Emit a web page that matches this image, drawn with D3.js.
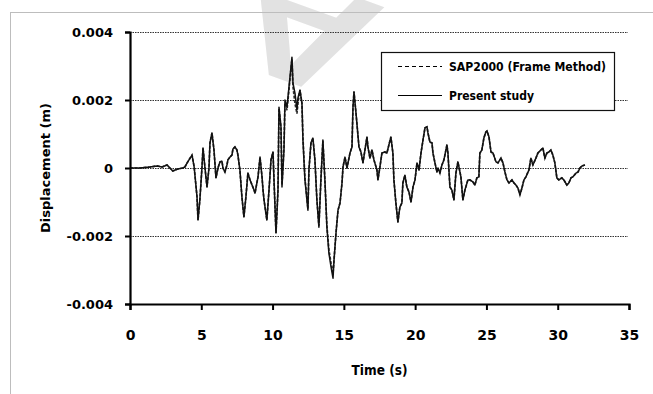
<!DOCTYPE html>
<html>
<head>
<meta charset="utf-8">
<script src="https://cdn.jsdelivr.net/npm/d3@7"></script>
<style>
  html, body { margin: 0; padding: 0; background: #fff; }
  svg { display: block; }
  text { font-family: "DejaVu Sans", sans-serif; font-weight: bold; fill: #000; }
</style>
</head>
<body>
<div id="chart"></div>
<script>
// time axis (s)
const timeS = [
  0, 0.7, 1.4, 1.9, 2.25, 2.6, 2.8, 3.0, 3.35, 3.7,
  3.85, 4.05, 4.35, 4.5, 4.7, 4.77, 4.9, 5.05, 5.12, 5.26,
  5.4, 5.54, 5.61, 5.75, 5.89, 6.03, 6.17, 6.31, 6.45, 6.52,
  6.66, 6.8, 6.87, 7.01, 7.15, 7.22, 7.36, 7.5, 7.57, 7.71,
  7.85, 7.99, 8.13, 8.27, 8.42, 8.56, 8.7, 8.77, 8.9, 8.98,
  9.12, 9.26, 9.33, 9.4, 9.6, 9.75, 9.89, 10.03, 10.1, 10.24,
  10.38, 10.45, 10.59, 10.66, 10.8, 10.87, 11.01, 11.15, 11.36, 11.43,
  11.57, 11.71, 11.78, 11.92, 12.06, 12.13, 12.27, 12.48, 12.55, 12.69,
  12.83, 12.97, 13.11, 13.25, 13.39, 13.53, 13.67, 13.81, 13.95, 14.1,
  14.24, 14.31, 14.45, 14.59, 14.73, 14.87, 14.94, 15.08, 15.22, 15.43,
  15.57, 15.64, 15.71, 15.85, 16.06, 16.2, 16.34, 16.48, 16.62, 16.69,
  16.83, 16.97, 17.11, 17.32, 17.39, 17.53, 17.67, 17.88, 18.02, 18.16,
  18.3, 18.44, 18.51, 18.65, 18.79, 18.93, 19.07, 19.14, 19.28, 19.42,
  19.57, 19.71, 19.85, 19.99, 20.13, 20.27, 20.41, 20.55, 20.69, 20.83,
  20.9, 21.04, 21.18, 21.25, 21.39, 21.53, 21.6, 21.74, 21.88, 22.02,
  22.23, 22.3, 22.44, 22.58, 22.72, 22.86, 23.0, 23.21, 23.35, 23.49,
  23.7, 23.84, 24.05, 24.19, 24.33, 24.47, 24.54, 24.68, 24.82, 24.96,
  25.04, 25.18, 25.32, 25.46, 25.67, 25.81, 26.02, 26.16, 26.3, 26.44,
  26.58, 26.79, 26.93, 27.07, 27.21, 27.35, 27.49, 27.63, 27.77, 27.98,
  28.12, 28.26, 28.47, 28.61, 28.82, 28.96, 29.1, 29.24, 29.38, 29.52,
  29.66, 29.8, 29.94, 30.08, 30.29, 30.43, 30.64, 30.78, 30.93, 31.07,
  31.28, 31.42, 31.56, 31.7, 31.91
];

// displacement (m), present study (solid)
const presentStudy = [
  0, 0, 0.00003, 0.00006, 0.00003, 0.00009, 0, -0.00009, -0.00003, 0,
  0.00003, 0.00018, 0.00038, 0.00003, -0.00085, -0.00153, -0.00094, 0.00003, 0.00059, 0,
  -0.00056, 0, 0.00074, 0.00103, 0.00053, -0.00029, 0, 0.00018, 0.0002, 0,
  -0.00012, 0.00009, 0.00024, 0.00032, 0.00038, 0.00056, 0.00062, 0.00053, 0.00038, -0.00006,
  -0.00085, -0.00144, -0.00085, -0.00015, -0.00035, -0.0005, -0.00065, -0.00074, -0.00044, -0.00026,
  0.00032, -0.00026, -0.00065, -0.00094, -0.00153, -0.00065, 0.00024, 0.00047, -0.00035, -0.00191,
  -0.00065, 0.00179, 0.00121, -0.00056, 0.00053, 0.002, 0.00179, 0.00238, 0.00326, 0.0025,
  0.0022, 0.00171, 0.00206, 0.00229, 0.00191, 0.00082, -0.00035, -0.00124, -0.00006, 0.00074,
  0.00088, 0.00024, -0.00094, -0.00174, -0.00035, 0.00082, -0.00035, -0.00174, -0.0025, -0.00291,
  -0.00324, -0.00271, -0.00191, -0.00124, -0.00103, -0.00044, 0.00003, 0.00032, 0, 0.00044,
  0.00062, 0.00179, 0.00224, 0.00162, 0.00062, 0.00047, 0.00015, 0.00053, 0.00091, 0.00062,
  0.00029, 0.00053, 0.00024, -0.00006, -0.00035, 0.00003, 0.00044, 0.00047, 0.00044, 0.00068,
  0.00091, 0.00044, -0.00035, -0.00103, -0.00159, -0.00115, -0.00103, -0.00044, -0.00021, -0.00056,
  -0.00071, -0.001, -0.00056, -0.00035, 0.00015, -0.00006, 0.00044, 0.00082, 0.00118, 0.00121,
  0.00103, 0.00076, 0.00074, 0.00044, 0.00015, -0.00012, 0, -0.00015, 0.00009, 0.00024,
  0.00068, 0.00044, -0.00056, -0.00065, -0.00094, -0.00015, 0.00018, -0.00026, -0.00094, -0.00065,
  -0.00035, -0.00035, -0.00041, -0.0005, -0.00029, -0.00026, 0.00044, 0.00053, 0.00088, 0.00106,
  0.00109, 0.00091, 0.00047, 0.00044, 0.00018, 0.00015, 0.00029, 0.00015, -0.00012, -0.00035,
  -0.00044, -0.00035, -0.00044, -0.0005, -0.00059, -0.00079, -0.00059, -0.00035, -0.00026, -0.00006,
  0.00029, 0.00009, 0.00029, 0.00044, 0.00053, 0.00059, 0.00029, 0.00044, 0.00047, 0.00053,
  0.00038, 0.00015, -0.00029, -0.00035, -0.00029, -0.00035, -0.0005, -0.00044, -0.00029, -0.00026,
  -0.00015, -0.00012, 0, 0.00006, 0.00009
];

// displacement (m), SAP2000 frame method (dashed)
const sap2000 = [
  0, 0, 0.00003, 0.00006, 0.00003, 0.00009, 0, -0.00009, -0.00003, 0,
  0.00003, 0.00018, 0.00038, 0.00003, -0.00085, -0.00153, -0.00094, 0.00003, 0.00059, 0,
  -0.00056, 0, 0.00074, 0.00103, 0.00053, -0.00029, 0, 0.00018, 0.0002, 0,
  -0.00012, 0.00009, 0.00024, 0.00032, 0.00038, 0.00056, 0.00062, 0.00053, 0.00038, -0.00006,
  -0.00085, -0.00144, -0.00085, -0.00015, -0.00035, -0.0005, -0.00065, -0.00074, -0.00044, -0.00026,
  0.00032, -0.00026, -0.00065, -0.00094, -0.00153, -0.00065, 0.00024, 0.00047, -0.00035, -0.00191,
  -0.00065, 0.00175, 0.0012, -0.0005, 0.0006, 0.0019, 0.0017, 0.0023, 0.0032, 0.0024,
  0.0019, 0.0016, 0.0019, 0.0023, 0.0019, 0.0009, -0.0003, -0.0012, -0.00006, 0.0007,
  0.00088, 0.00024, -0.00094, -0.0017, -0.00035, 0.0008, -0.00035, -0.0017, -0.0024, -0.0028,
  -0.0031, -0.0027, -0.0019, -0.00124, -0.00103, -0.00044, 0.00003, 0.00032, 0, 0.00044,
  0.00062, 0.00179, 0.00224, 0.00162, 0.00062, 0.00047, 0.00015, 0.00053, 0.00091, 0.00062,
  0.00029, 0.00053, 0.00024, -0.00006, -0.00035, 0.00003, 0.00044, 0.00047, 0.00044, 0.00068,
  0.00091, 0.00044, -0.00035, -0.00103, -0.00159, -0.00115, -0.00103, -0.00044, -0.00021, -0.00056,
  -0.00071, -0.001, -0.00056, -0.00035, 0.00015, -0.00006, 0.00044, 0.00082, 0.00118, 0.00121,
  0.00103, 0.00076, 0.00074, 0.00044, 0.00015, -0.00012, 0, -0.00015, 0.00009, 0.00024,
  0.00068, 0.00044, -0.00056, -0.00065, -0.00094, -0.00015, 0.00018, -0.00026, -0.00094, -0.00065,
  -0.00035, -0.00035, -0.00041, -0.0005, -0.00029, -0.00026, 0.00044, 0.00053, 0.00088, 0.00106,
  0.00109, 0.00091, 0.00047, 0.00044, 0.00018, 0.00015, 0.00029, 0.00015, -0.00012, -0.00035,
  -0.00044, -0.00035, -0.00044, -0.0005, -0.00059, -0.00079, -0.00059, -0.00035, -0.00026, -0.00006,
  0.00029, 0.00009, 0.00029, 0.00044, 0.00053, 0.00059, 0.00029, 0.00044, 0.00047, 0.00053,
  0.00038, 0.00015, -0.00029, -0.00035, -0.00029, -0.00035, -0.0005, -0.00044, -0.00029, -0.00026,
  -0.00015, -0.00012, 0, 0.00006, 0.00009
];

const xTicks = [0, 5, 10, 15, 20, 25, 30, 35];
const yTicks = [-0.004, -0.002, 0, 0.002, 0.004];
const yTickLabels = ['-0.004', '-0.002', '0', '0.002', '0.004'];
const gridValues = [-0.002, 0, 0.002, 0.004];
const seriesNames = ['SAP2000 (Frame Method)', 'Present study'];

const width = 653, height = 394;
const plot = { left: 130, right: 629, top: 32, bottom: 304 };

const svg = d3.select('#chart').append('svg')
  .attr('width', width)
  .attr('height', height);

svg.append('rect').attr('width', width).attr('height', height).attr('fill', '#fff');

// faint watermark letter behind everything (upside-down, partly off the top)
svg.append('text')
  .attr('transform', 'translate(389,9) rotate(200) scale(1.35,1)')
  .style('font-family', '"Liberation Sans", sans-serif')
  .style('font-weight', 'bold')
  .style('font-size', '150px')
  .style('fill', '#e2e2e2')
  .text('A');

// outer chart frame
svg.append('rect')
  .attr('x', 10.5).attr('y', 12.5)
  .attr('width', 700).attr('height', 500)
  .attr('fill', 'none')
  .attr('stroke', '#bdbdbd');

const x = d3.scaleLinear().domain([0, 35]).range([plot.left, plot.right]);
const y = d3.scaleLinear().domain([-0.004, 0.004]).range([plot.bottom, plot.top]);

// dotted gridlines
svg.append('g').selectAll('line')
  .data(gridValues)
  .join('line')
  .attr('x1', x(0)).attr('x2', x(35) - 1)
  .attr('y1', d => Math.round(y(d)) + 0.5)
  .attr('y2', d => Math.round(y(d)) + 0.5)
  .attr('stroke', '#333')
  .attr('stroke-width', 1)
  .attr('stroke-dasharray', '1.5,1');

// series
const pts = arr => timeS.slice(0, arr.length).map((t, i) => [t, arr[i]]);
const line = d3.line().x(d => x(d[0])).y(d => y(d[1]));

svg.append('path')
  .datum(pts(sap2000))
  .attr('d', line)
  .attr('fill', 'none')
  .attr('stroke', '#333')
  .attr('stroke-width', 1.7)
  .attr('stroke-dasharray', '3,1.5');

svg.append('path')
  .datum(pts(presentStudy))
  .attr('d', line)
  .attr('fill', 'none')
  .attr('stroke', '#111')
  .attr('stroke-width', 1.5)
  .attr('stroke-linejoin', 'round');

// axes
const yAxis = svg.append('g')
  .attr('transform', `translate(${plot.left},0)`)
  .call(d3.axisLeft(y).tickValues(yTicks).tickSize(5).tickPadding(12)
    .tickFormat((d, i) => yTickLabels[i]));

const xAxis = svg.append('g')
  .attr('transform', `translate(0,${plot.bottom})`)
  .call(d3.axisBottom(x).tickValues(xTicks).tickSize(6).tickPadding(20)
    .tickFormat(d3.format('d')));

[yAxis, xAxis].forEach(ax => {
  ax.select('.domain').attr('stroke', '#000').attr('stroke-width', 2.2);
  ax.selectAll('.tick line').attr('stroke', '#000').attr('stroke-width', 2);
  ax.selectAll('text').attr('fill', '#000');
});
yAxis.selectAll('text').style('font-size', '13px').style('font-family', '"DejaVu Sans", sans-serif').style('font-weight', 'bold');
xAxis.selectAll('text').style('font-size', '14px').style('font-family', '"DejaVu Sans", sans-serif').style('font-weight', 'bold');

// axis titles
svg.append('text')
  .attr('x', (plot.left + plot.right) / 2)
  .attr('y', 375)
  .attr('text-anchor', 'middle')
  .attr('textLength', 56)
  .attr('lengthAdjust', 'spacingAndGlyphs')
  .style('font-size', '14px')
  .text('Time (s)');

svg.append('text')
  .attr('transform', `translate(50,${(plot.top + plot.bottom) / 2}) rotate(-90)`)
  .attr('text-anchor', 'middle')
  .attr('textLength', 130)
  .attr('lengthAdjust', 'spacingAndGlyphs')
  .style('font-size', '13px')
  .text('Displacement  (m)');

// legend
const legend = svg.append('g');
legend.append('rect')
  .attr('x', 381.5).attr('y', 52.5)
  .attr('width', 233).attr('height', 58)
  .attr('fill', '#fff')
  .attr('stroke', '#111')
  .attr('stroke-width', 1.2);

const legendRows = [
  { name: seriesNames[0], y: 66, dash: '4,3', len: 157 },
  { name: seriesNames[1], y: 95, dash: null, len: 85 }
];
legendRows.forEach(r => {
  legend.append('line')
    .attr('x1', 398).attr('x2', 442)
    .attr('y1', r.y + 0.5).attr('y2', r.y + 0.5)
    .attr('stroke', '#000')
    .attr('stroke-width', 1.2)
    .attr('stroke-dasharray', r.dash);
  legend.append('text')
    .attr('x', 449)
    .attr('y', r.y + 5)
    .attr('textLength', r.len)
    .attr('lengthAdjust', 'spacingAndGlyphs')
    .style('font-size', '13px')
    .text(r.name);
});
</script>
</body>
</html>
